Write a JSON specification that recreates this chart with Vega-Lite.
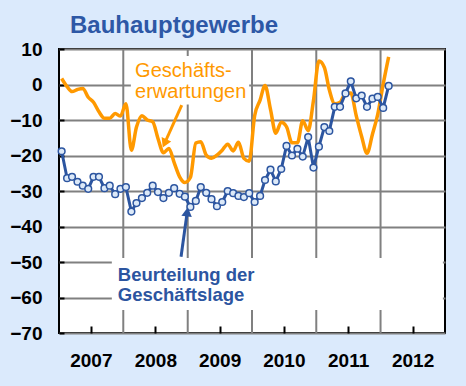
{
  "$schema": "https://vega.github.io/schema/vega-lite/v6.json",
  "autosize": "none",
  "width": 386,
  "height": 284,
  "padding": {"left": 59, "top": 49, "right": 21, "bottom": 53},
  "background": "#dbeafc",
  "config": {
    "font": "Liberation Sans",
    "view": {"fill": "white", "stroke": "black", "strokeWidth": 2}
  },
  "title": {
    "text": "Bauhauptgewerbe",
    "anchor": "start",
    "frame": "group",
    "dx": 11,
    "offset": 8,
    "dy": 25,
    "baseline": "alphabetic",
    "fontSize": 24,
    "font": "Liberation Sans",
    "fontWeight": "bold",
    "color": "#2d58a6"
  },
  "datasets": {
    "series": [
      {"date": "2007-01-16", "lage": -18.8, "erw": 1.7},
      {"date": "2007-02-16", "lage": -26.4, "erw": -0.6},
      {"date": "2007-03-16", "lage": -26.0, "erw": -2.0},
      {"date": "2007-04-16", "lage": -27.4, "erw": -1.4},
      {"date": "2007-05-16", "lage": -28.5, "erw": -1.1},
      {"date": "2007-06-16", "lage": -29.4, "erw": -3.6},
      {"date": "2007-07-16", "lage": -26.0, "erw": -5.0},
      {"date": "2007-08-16", "lage": -26.0, "erw": -7.7},
      {"date": "2007-09-16", "lage": -29.2, "erw": -9.5},
      {"date": "2007-10-16", "lage": -28.5, "erw": -9.5},
      {"date": "2007-11-16", "lage": -30.9, "erw": -8.2},
      {"date": "2007-12-16", "lage": -29.4, "erw": -8.9},
      {"date": "2008-01-16", "lage": -28.9, "erw": -5.4},
      {"date": "2008-02-16", "lage": -35.8, "erw": -18.5},
      {"date": "2008-03-16", "lage": -33.4, "erw": -12.0},
      {"date": "2008-04-16", "lage": -32.0, "erw": -8.8},
      {"date": "2008-05-16", "lage": -30.5, "erw": -10.0},
      {"date": "2008-06-16", "lage": -28.5, "erw": -10.5},
      {"date": "2008-07-16", "lage": -30.3, "erw": -15.2},
      {"date": "2008-08-16", "lage": -32.0, "erw": -19.2},
      {"date": "2008-09-16", "lage": -30.5, "erw": -18.0},
      {"date": "2008-10-16", "lage": -29.2, "erw": -22.0},
      {"date": "2008-11-16", "lage": -30.8, "erw": -26.0},
      {"date": "2008-12-16", "lage": -31.6, "erw": -27.6},
      {"date": "2009-01-16", "lage": -34.5, "erw": -26.2},
      {"date": "2009-02-16", "lage": -32.8, "erw": -16.5},
      {"date": "2009-03-16", "lage": -28.9, "erw": -16.1},
      {"date": "2009-04-16", "lage": -30.5, "erw": -19.9},
      {"date": "2009-05-16", "lage": -32.3, "erw": -20.8},
      {"date": "2009-06-16", "lage": -34.3, "erw": -19.9},
      {"date": "2009-07-16", "lage": -33.1, "erw": -18.5},
      {"date": "2009-08-16", "lage": -30.0, "erw": -16.8},
      {"date": "2009-09-16", "lage": -30.6, "erw": -18.7},
      {"date": "2009-10-16", "lage": -31.4, "erw": -16.3},
      {"date": "2009-11-16", "lage": -31.7, "erw": -20.8},
      {"date": "2009-12-16", "lage": -30.6, "erw": -21.6},
      {"date": "2010-01-16", "lage": -33.1, "erw": -8.8},
      {"date": "2010-02-16", "lage": -31.4, "erw": -4.4},
      {"date": "2010-03-16", "lage": -26.9, "erw": -0.3},
      {"date": "2010-04-16", "lage": -24.0, "erw": -7.0},
      {"date": "2010-05-16", "lage": -27.3, "erw": -13.7},
      {"date": "2010-06-16", "lage": -23.8, "erw": -10.6},
      {"date": "2010-07-16", "lage": -17.3, "erw": -11.9},
      {"date": "2010-08-16", "lage": -20.0, "erw": -16.4},
      {"date": "2010-09-16", "lage": -18.1, "erw": -16.4},
      {"date": "2010-10-16", "lage": -20.3, "erw": -10.2},
      {"date": "2010-11-16", "lage": -14.8, "erw": -13.0},
      {"date": "2010-12-16", "lage": -23.4, "erw": -4.5},
      {"date": "2011-01-16", "lage": -17.5, "erw": 6.6},
      {"date": "2011-02-16", "lage": -12.0, "erw": 4.8},
      {"date": "2011-03-16", "lage": -13.1, "erw": -1.5},
      {"date": "2011-04-16", "lage": -6.3, "erw": -5.4},
      {"date": "2011-05-16", "lage": -6.3, "erw": -5.0},
      {"date": "2011-06-16", "lage": -2.5, "erw": -2.5},
      {"date": "2011-07-16", "lage": 0.9, "erw": -2.4},
      {"date": "2011-08-16", "lage": -3.9, "erw": -8.8},
      {"date": "2011-09-16", "lage": -3.1, "erw": -14.7},
      {"date": "2011-10-16", "lage": -6.3, "erw": -19.4},
      {"date": "2011-11-16", "lage": -4.0, "erw": -14.0},
      {"date": "2011-12-16", "lage": -3.5, "erw": -8.4},
      {"date": "2012-01-16", "lage": -6.6, "erw": 0.1},
      {"date": "2012-02-16", "lage": -0.4, "erw": 7.8}
    ],
    "years": [
      {"date": "2008-01-01"}, {"date": "2009-01-01"}, {"date": "2010-01-01"},
      {"date": "2011-01-01"}, {"date": "2012-01-01"}
    ],
    "masks": [
      {"x1": "2008-02-13", "x2": "2009-12-16", "y1": 8, "y2": -5.6},
      {"x1": "2007-10-28", "x2": "2012-12-20", "y1": -48.9, "y2": -63.5}
    ],
    "arrows": [
      {"series": "erw", "sx": "2008-11-28", "sy": -5.8, "tx": "2008-08-26", "ty": -16.2, "angle": 204},
      {"series": "lage", "sx": "2008-11-24", "sy": -48.5, "tx": "2008-12-28", "ty": -36.3, "angle": 8}
    ],
    "labels": [
      {"series": "erw", "date": "2008-03-08", "value": 2.1, "text": "Geschäfts-\nerwartungen"},
      {"series": "lage", "date": "2007-12-01", "value": -55.35, "text": "Beurteilung der\nGeschäftslage"}
    ]
  },
  "layer": [
    {
      "data": {"name": "years"},
      "mark": {"type": "rule", "color": "#808080", "strokeWidth": 2},
      "encoding": {
        "x": {"field": "date", "type": "temporal"}
      }
    },
    {
      "data": {"name": "masks"},
      "mark": {"type": "rect", "color": "white"},
      "encoding": {
        "x": {"field": "x1", "type": "temporal"},
        "x2": {"field": "x2"},
        "y": {"field": "y1", "type": "quantitative"},
        "y2": {"field": "y2"}
      }
    },
    {
      "data": {"name": "series"},
      "mark": {"type": "line", "color": "#ff9900", "strokeWidth": 3.5, "interpolate": "monotone"},
      "encoding": {
        "x": {
          "field": "date", "type": "temporal",
          "scale": {"type": "utc", "domain": [{"year": 2007, "month": 1, "date": 1, "utc": true}, {"year": 2013, "month": 1, "date": 1, "utc": true}]},
          "axis": {
            "values": [
              {"year": 2007, "month": 7, "date": 1, "utc": true},
              {"year": 2008, "month": 7, "date": 1, "utc": true},
              {"year": 2009, "month": 7, "date": 1, "utc": true},
              {"year": 2010, "month": 7, "date": 1, "utc": true},
              {"year": 2011, "month": 7, "date": 1, "utc": true},
              {"year": 2012, "month": 7, "date": 1, "utc": true}
            ],
            "tickCount": 20,
            "format": "%Y",
            "title": null,
            "grid": false,
            "domain": false,
            "labelOverlap": false,
            "tickSize": -7,
            "tickColor": "black",
            "tickWidth": 2,
            "labelPadding": 25,
            "labelFontSize": 19,
            "labelFontWeight": "bold",
            "labelColor": "black",
            "labelFont": "Liberation Sans"
          }
        },
        "y": {
          "field": "erw", "type": "quantitative",
          "scale": {"domain": [-70, 10], "nice": false, "zero": false},
          "axis": {
            "values": [-70, -60, -50, -40, -30, -20, -10, 0, 10],
            "tickCount": 20,
            "title": null,
            "grid": true,
            "gridColor": "#808080",
            "gridWidth": 2,
            "domain": false,
            "labelOverlap": false,
            "tickSize": -5,
            "tickColor": "black",
            "tickWidth": 2,
            "labelPadding": 22,
            "labelFontSize": 19,
            "labelFontWeight": "bold",
            "labelColor": "black",
            "labelFont": "Liberation Sans"
          }
        }
      }
    },
    {
      "data": {"name": "series"},
      "mark": {"type": "line", "color": "#2c55a0", "strokeWidth": 3},
      "encoding": {
        "x": {"field": "date", "type": "temporal"},
        "y": {"field": "lage", "type": "quantitative"}
      }
    },
    {
      "data": {"name": "series"},
      "mark": {"type": "point", "filled": true, "fill": "#dce9f8", "stroke": "#2c55a0", "strokeWidth": 1.5, "size": 45, "opacity": 1},
      "encoding": {
        "x": {"field": "date", "type": "temporal"},
        "y": {"field": "lage", "type": "quantitative"}
      }
    },
    {
      "data": {"name": "arrows"},
      "mark": {"type": "rule", "strokeWidth": 3},
      "encoding": {
        "x": {"field": "sx", "type": "temporal"},
        "y": {"field": "sy", "type": "quantitative"},
        "x2": {"field": "tx"},
        "y2": {"field": "ty"},
        "color": {"field": "series", "type": "nominal", "scale": {"domain": ["erw", "lage"], "range": ["#ff9900", "#2c55a0"]}, "legend": null}
      }
    },
    {
      "data": {"name": "arrows"},
      "mark": {"type": "point", "shape": "triangle", "filled": true, "size": 110, "opacity": 1},
      "encoding": {
        "x": {"field": "tx", "type": "temporal"},
        "y": {"field": "ty", "type": "quantitative"},
        "angle": {"field": "angle", "type": "quantitative", "scale": null},
        "color": {"field": "series", "type": "nominal", "scale": {"domain": ["erw", "lage"], "range": ["#ff9900", "#2c55a0"]}, "legend": null}
      }
    },
    {
      "data": {"name": "labels"},
      "transform": [{"filter": "datum.series == 'erw'"}],
      "mark": {"type": "text", "align": "left", "baseline": "alphabetic", "lineBreak": "\n", "font": "Liberation Sans", "fontSize": 20, "lineHeight": 21, "color": "#ff9900"},
      "encoding": {
        "x": {"field": "date", "type": "temporal"},
        "y": {"field": "value", "type": "quantitative"},
        "text": {"field": "text"}
      }
    },
    {
      "data": {"name": "labels"},
      "transform": [{"filter": "datum.series == 'lage'"}],
      "mark": {"type": "text", "align": "left", "baseline": "alphabetic", "lineBreak": "\n", "font": "Liberation Sans", "fontSize": 18.5, "fontWeight": "bold", "lineHeight": 20, "color": "#2c55a0"},
      "encoding": {
        "x": {"field": "date", "type": "temporal"},
        "y": {"field": "value", "type": "quantitative"},
        "text": {"field": "text"}
      }
    }
  ]
}
